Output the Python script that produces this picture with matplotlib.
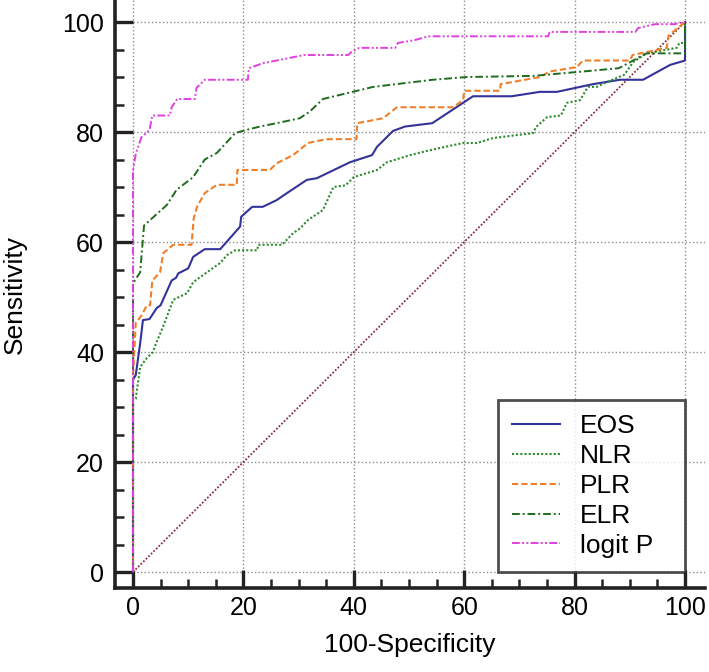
import matplotlib
matplotlib.use("Agg")
import matplotlib.pyplot as plt
from matplotlib.ticker import MultipleLocator

plt.rcParams['font.family'] = ['Liberation Sans', 'DejaVu Sans']

# ROC curves (100-Specificity, Sensitivity)
eos_x = [0, 0, 0.5, 1.3, 1.8, 3, 4.3, 5, 7, 7.8, 8.2, 10, 10.9, 13, 15.8, 19.4, 19.6, 21.6, 23.5, 26,
         27.9, 31.5, 33.3, 39.3, 43.3, 44.2, 47.1, 49.3, 54.2, 61.6, 68.6, 73.7, 76.8, 83.3, 88.2, 92.4,
         97.3, 100, 100]
eos_y = [0, 35, 35.8, 41.6, 45.8, 46, 48, 48.5, 53, 53.5, 54.3, 55.2, 57.3, 58.7, 58.7, 62.8, 64.6, 66.4,
         66.4, 67.6, 68.9, 71.3, 71.6, 74.5, 75.8, 77.3, 80.2, 81, 81.6, 86.5, 86.5, 87.3, 87.3, 88.7, 89.5,
         89.5, 92.2, 93, 100]

nlr_x = [0, 0, 0.5, 1.3, 2.5, 3.6, 4.2, 5.4, 7.3, 9.8, 10.9, 13.4, 15.8, 17, 18.5, 22.5, 22.7, 27, 29,
         30.3, 31.7, 34.4, 36.3, 38.5, 40, 44.2, 46, 50.2, 53.8, 59.8, 62.3, 65.2, 72.5, 73, 75, 77.5, 78.6,
         81, 82.4, 84, 85.9, 89, 90.6, 93, 98.5, 99, 100, 100]
nlr_y = [0, 31.3, 31.5, 37.3, 38.9, 40, 41.6, 44.5, 49.5, 50.7, 52.7, 54.5, 56.2, 57.6, 58.5, 58.5, 59.5,
         59.5, 61.6, 62.5, 64, 65.8, 70, 70.3, 71.8, 73.1, 74.5, 75.8, 76.7, 78, 78, 78.9, 79.8, 80.9, 82.7,
         83, 85.3, 85.8, 88.2, 88.2, 89.1, 90.4, 92.7, 94.3, 95.3, 96.2, 96.2, 100]

plr_x = [0, 0, 0.5, 1.6, 2.5, 3.1, 3.5, 4.9, 5.5, 7.3, 10.6, 11, 11.6, 13, 15.2, 18.8, 18.9, 24.8, 26, 29,
         31.7, 35, 40.5, 40.6, 45.3, 47.8, 58, 59.8, 60, 66.5, 66.6, 73.7, 75.5, 80.4, 81.5, 90, 90.5, 96.7,
         97, 100]
plr_y = [0, 35.5, 45.3, 46.7, 48.5, 48.5, 53, 54.5, 58, 59.5, 59.5, 64.3, 66.4, 68.9, 70.4, 70.4, 73.1,
         73.1, 74.3, 75.8, 78, 78.7, 78.7, 81.6, 82.5, 84.5, 84.5, 85.8, 87.5, 87.5, 88.7, 90, 91, 91.8, 93,
         93, 94, 95.3, 97.5, 100]

elr_x = [0, 0, 1.3, 2, 6.1, 7.9, 10.9, 13, 15.2, 18.5, 20.6, 23, 26, 30.2, 32, 34.4, 43.5, 54.3, 60.5,
         72.5, 81.5, 88, 90.6, 93, 100, 100]
elr_y = [0, 52.5, 54.5, 63, 66.7, 69.5, 71.8, 75, 76.2, 79.8, 80.4, 81, 81.6, 82.5, 83.7, 86, 88.2, 89.5,
         90, 90.2, 91, 91.6, 93, 94.3, 94.3, 100]

logit_x = [0, 0, 0.5, 1.5, 3, 3.5, 6.7, 7, 8, 11.2, 11.5, 13, 20.8, 21, 23.5, 26, 31, 39, 39.5, 41, 47.5,
           48, 51, 53.5, 75.2, 75.5, 91, 91.5, 94.6, 98, 100]
logit_y = [0, 73, 76, 79, 80.4, 83, 83, 84.5, 86, 86, 88, 89.5, 89.5, 91.6, 92.5, 93, 94, 94, 94.5, 95.3,
           95.3, 96.2, 96.7, 97.4, 97.4, 98.2, 98.2, 98.9, 99.6, 99.6, 100]

ticks = [0, 20, 40, 60, 80, 100]

fig = plt.figure(figsize=(7.09, 6.72), dpi=100)
ax = fig.add_axes([0.1622, 0.125, 0.832, 0.875])
xmin, xmax = -3.26, 103.6
ymin, ymax = -2.9, 104
ax.set_xlim(xmin, xmax)
ax.set_ylim(ymin, ymax)

# grid from data 0 out to the axes edge
ax.vlines(ticks, 0, ymax, colors='#8c8c8c', linestyles=':', linewidth=1, zorder=0)
ax.hlines(ticks, 0, xmax, colors='#8c8c8c', linestyles=':', linewidth=1, zorder=0)

ax.plot([0, 100], [0, 100], color='#8b2f3f', linestyle=(0, (1, 1)), linewidth=1.3)
ax.plot(eos_x, eos_y, color='#333399', linewidth=1.5, label='EOS')
ax.plot(nlr_x, nlr_y, color='#2e8b2e', linestyle=(0, (1, 1)), linewidth=1.5, label='NLR')
ax.plot(plr_x, plr_y, color='#f07f2a', linestyle=(0, (3, 1.5)), linewidth=1.5, label='PLR')
ax.plot(elr_x, elr_y, color='#1f6b1f', linestyle=(0, (4, 1.5, 1, 1.5)), linewidth=1.4, label='ELR')
ax.plot(logit_x, logit_y, color='#e040e0', linestyle=(0, (4, 1.2, 1, 1.2, 1, 1.2)), linewidth=1.4,
        label='logit P')

for s in ['top', 'right']:
    ax.spines[s].set_visible(False)
for s in ['left', 'bottom']:
    ax.spines[s].set_linewidth(2.6)
    ax.spines[s].set_color('#222222')

ax.set_xticks(ticks)
ax.set_yticks(ticks)
ax.xaxis.set_minor_locator(MultipleLocator(5))
ax.yaxis.set_minor_locator(MultipleLocator(5))
ax.tick_params(which='major', direction='in', length=13, width=2.4, color='#222222', labelsize=18)
ax.tick_params(which='minor', direction='in', length=6.5, width=1.8, color='#222222')
ax.tick_params(axis='y', which='major', pad=8)
ax.tick_params(axis='x', which='major', pad=6)

ax.set_xlabel('100-Specificity', fontsize=19, labelpad=9)
ax.set_ylabel('Sensitivity', fontsize=19, labelpad=25)

leg = ax.legend(loc='lower left', bbox_to_anchor=(0.649, 0.027, 0.317, 0.3), mode='expand',
                fontsize=19, frameon=True, fancybox=False, handlelength=1.8, labelspacing=0.22,
                borderpad=0.55, handletextpad=0.75, borderaxespad=0)
leg.get_frame().set_edgecolor('#222222')
leg.get_frame().set_linewidth(2)

fig.savefig('out.png', dpi=100)
